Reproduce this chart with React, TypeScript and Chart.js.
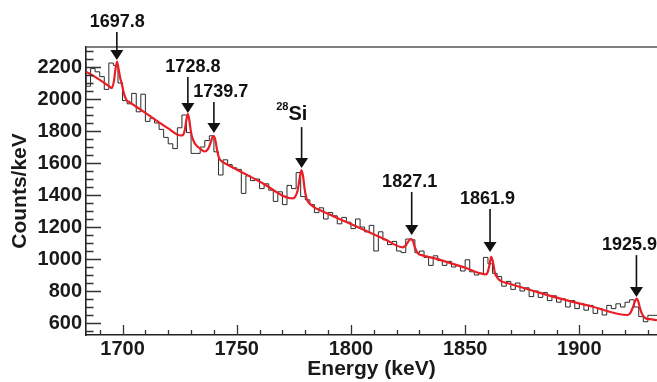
import React, { useEffect, useRef } from 'react';
import { Chart, registerables } from 'chart.js';

Chart.register(...registerables);

// Histogram: 2 keV bins starting at 1684 keV
const BIN_START = 1684;
const BIN_WIDTH = 2;
const histCounts = [
  2230, 2080, 2190, 2170, 2140, 2060, 2225, 2210, 2100, 1990,
  1970, 2035, 1920, 2030, 1860, 1880, 1850, 1810, 1760, 1720,
  1690, 1820, 1900, 1790, 1660, 1660, 1700, 1740, 1770, 1670,
  1525, 1620, 1590, 1570, 1560, 1410, 1520, 1490, 1500, 1440,
  1470, 1430, 1360, 1420, 1340, 1460, 1440, 1540, 1390, 1370,
  1340, 1290, 1320, 1250, 1290, 1270, 1220, 1260, 1230, 1190,
  1250, 1200, 1170, 1210, 1050, 1170, 1120, 1090, 1110, 1050,
  1040, 1125, 1120, 1040, 1050, 1010, 960, 1020, 990, 960,
  985, 950, 960, 925, 995, 920, 900, 910, 1010, 970,
  910, 890, 830, 860, 810, 850, 800, 820, 765, 800,
  760, 790, 740, 770, 730, 750, 700, 740, 690, 720,
  680, 710, 660, 690, 650, 710, 690, 720, 700, 730,
  745, 700, 640, 608, 648,
];

// Fit curve
const fitEnergies = [
  1684, 1688, 1692, 1694.5, 1695.3, 1696.2, 1697, 1697.6, 1698.3, 1699,
  1699.6, 1700.5, 1701.7, 1703, 1710, 1720, 1725.5, 1726.5, 1727.3, 1728,
  1728.6, 1729.2, 1730, 1730.8, 1732, 1734, 1736, 1737.5, 1738.5, 1739.4,
  1740, 1740.6, 1741.4, 1742.3, 1744, 1746.2, 1760, 1774.6, 1775.6, 1776.6,
  1777.5, 1778.3, 1779, 1779.8, 1780.5, 1781.5, 1782.7, 1784.5, 1786.3, 1800,
  1815, 1822.7, 1823.8, 1824.8, 1825.7, 1826.4, 1827.2, 1828, 1829.3, 1831,
  1836.7, 1850, 1859.2, 1859.9, 1860.7, 1861.4, 1862.2, 1863, 1864.3, 1866,
  1868.7, 1880, 1891.3, 1905, 1921.2, 1922.4, 1923.5, 1924.4, 1925.1, 1925.8,
  1926.6, 1927.7, 1929, 1931, 1934,
];
const fitCounts = [
  2170, 2138, 2100, 2075, 2068, 2110, 2195, 2232, 2185, 2130,
  2100, 2040, 1994, 1981, 1913, 1816, 1772, 1776, 1810, 1875,
  1905, 1870, 1790, 1748, 1715, 1690, 1672, 1690, 1725, 1762,
  1768, 1745, 1680, 1630, 1605, 1587, 1485, 1379, 1390, 1425,
  1500, 1556, 1520, 1430, 1381, 1352, 1337, 1318, 1306, 1218,
  1122, 1073, 1082, 1102, 1120, 1124, 1110, 1072, 1035, 1024,
  1004, 945, 904, 920, 965, 1014, 980, 915, 879, 860,
  848, 800, 754, 705, 650, 665, 700, 738, 752, 735,
  690, 650, 630, 624, 618,
];

// Axis ticks
const xTickValues = [1700, 1750, 1800, 1850, 1900];
const yTickValues = [600, 800, 1000, 1200, 1400, 1600, 1800, 2000, 2200];
const X_MIN = 1684;
const X_MAX = 1934;
const Y_MIN = 525;
const Y_MAX = 2325;

// Peak annotations (data coordinates)
const peakLabels = ['1697.8', '1728.8', '1739.7', 'Si', '1827.1', '1861.9', '1925.9'];
const peakSuperscripts = ['', '', '', '28', '', '', ''];
const peakArrowEnergies = [1697.5, 1728.6, 1740.0, 1778.4, 1826.6, 1860.9, 1925.0];
const peakTipCounts = [2244, 1912, 1787, 1569, 1150, 1044, 762];
const peakTextEnergies = [1697.7, 1730.8, 1743.0, 1774.1, 1825.7, 1859.8, 1922.0];
const peakTextCounts = [2481, 2200, 2044, 1912, 1481, 1375, 1087];

const FONT = "'Liberation Sans', Arial, Helvetica, sans-serif";

const overlayPlugin = {
  id: 'overlay',
  afterDraw(chart: any) {
    const { ctx, chartArea: a } = chart;
    const xs = chart.scales.x;
    const ys = chart.scales.y;
    ctx.save();
    // top frame line
    ctx.strokeStyle = '#555';
    ctx.lineWidth = 1.5;
    ctx.beginPath();
    ctx.moveTo(a.left, a.top);
    ctx.lineTo(a.right + 2, a.top);
    ctx.stroke();

    // inward ticks
    ctx.strokeStyle = '#333';
    ctx.lineWidth = 1.3;
    ctx.beginPath();
    for (let v = 550; v <= 2300; v += 50) {
      const py = Math.round(ys.getPixelForValue(v)) + 0.5;
      const len = v % 200 === 0 ? 15 : 7.5;
      ctx.moveTo(a.left, py);
      ctx.lineTo(a.left + len, py);
    }
    for (let e = 1690; e <= 1930; e += 10) {
      const px = Math.round(xs.getPixelForValue(e)) + 0.5;
      const len = e % 50 === 0 ? 10 : 5;
      ctx.moveTo(px, a.bottom);
      ctx.lineTo(px, a.bottom - len);
    }
    ctx.stroke();

    // peak annotations
    ctx.fillStyle = '#111';
    ctx.strokeStyle = '#111';
    for (let i = 0; i < peakLabels.length; i++) {
      const ax = xs.getPixelForValue(peakArrowEnergies[i]);
      const tipY = ys.getPixelForValue(peakTipCounts[i]);
      const tx = xs.getPixelForValue(peakTextEnergies[i]);
      const ty = ys.getPixelForValue(peakTextCounts[i]);
      ctx.textBaseline = 'middle';
      if (peakSuperscripts[i]) {
        ctx.font = `bold 11px ${FONT}`;
        const sw = ctx.measureText(peakSuperscripts[i]).width;
        ctx.font = `bold 20px ${FONT}`;
        const mw = ctx.measureText(peakLabels[i]).width;
        const left = tx - (sw + mw) / 2;
        ctx.textAlign = 'left';
        ctx.font = `bold 11px ${FONT}`;
        ctx.fillText(peakSuperscripts[i], left, ty - 6);
        ctx.font = `bold 20px ${FONT}`;
        ctx.fillText(peakLabels[i], left + sw, ty + 1);
      } else {
        ctx.textAlign = 'center';
        ctx.font = `bold 18px ${FONT}`;
        ctx.fillText(peakLabels[i], tx, ty);
      }
      const lineTop = ty + (peakSuperscripts[i] ? 14 : 10);
      const headH = 10;
      const headW = 6.5;
      ctx.lineWidth = 1.6;
      ctx.beginPath();
      ctx.moveTo(ax, lineTop);
      ctx.lineTo(ax, tipY - headH + 1);
      ctx.stroke();
      ctx.beginPath();
      ctx.moveTo(ax - headW, tipY - headH);
      ctx.lineTo(ax + headW, tipY - headH);
      ctx.lineTo(ax, tipY);
      ctx.closePath();
      ctx.fill();
    }
    ctx.restore();
  },
};

export default function App() {
  const canvasRef = useRef<HTMLCanvasElement | null>(null);

  useEffect(() => {
    const canvas = canvasRef.current;
    if (!canvas) return;
    const histData = histCounts.map((v, i) => ({ x: BIN_START + i * BIN_WIDTH, y: v }));
    histData.push({ x: BIN_START + histCounts.length * BIN_WIDTH, y: histCounts[histCounts.length - 1] });
    const fitData = fitEnergies.map((e, i) => ({ x: e, y: fitCounts[i] }));

    const chart = new Chart(canvas, {
      type: 'line',
      data: {
        datasets: [
          {
            label: 'fit',
            data: fitData,
            borderColor: 'rgb(234, 30, 38)',
            borderWidth: 2.2,
            pointRadius: 0,
            fill: false,
            cubicInterpolationMode: 'monotone',
            order: 0,
          },
          {
            label: 'data',
            data: histData,
            borderColor: '#2a2a2a',
            borderWidth: 1,
            pointRadius: 0,
            fill: false,
            stepped: 'after',
            order: 1,
          },
        ],
      },
      options: {
        responsive: false,
        animation: false,
        devicePixelRatio: 1,
        layout: { padding: { top: 47, right: 0, left: 0, bottom: 0 } },
        plugins: { legend: { display: false }, tooltip: { enabled: false } },
        scales: {
          x: {
            type: 'linear',
            min: X_MIN,
            max: X_MAX,
            grid: { display: false, drawTicks: false },
            border: { display: true, color: '#222', width: 1.6 },
            afterBuildTicks: (scale: any) => {
              scale.ticks = xTickValues.map((v) => ({ value: v }));
            },
            afterFit: (scale: any) => {
              scale.height = 47;
            },
            ticks: {
              autoSkip: false,
              maxRotation: 0,
              padding: 2,
              color: '#1a1a1a',
              font: { family: FONT, size: 20, weight: 'bold' },
              callback: (v: any) => String(v),
            },
            title: {
              display: true,
              text: 'Energy (keV)',
              color: '#1a1a1a',
              font: { family: FONT, size: 21, weight: 'bold' },
              padding: { top: 0, bottom: 0 },
            },
          },
          y: {
            type: 'linear',
            min: Y_MIN,
            max: Y_MAX,
            grid: { display: false, drawTicks: false },
            border: { display: true, color: '#222', width: 1.6 },
            afterBuildTicks: (scale: any) => {
              scale.ticks = yTickValues.map((v) => ({ value: v }));
            },
            afterFit: (scale: any) => {
              scale.width = 86;
            },
            ticks: {
              autoSkip: false,
              padding: 4,
              color: '#1a1a1a',
              font: { family: FONT, size: 20, weight: 'bold' },
              callback: (v: any) => String(v),
            },
            title: {
              display: true,
              text: 'Counts/keV',
              color: '#1a1a1a',
              font: { family: FONT, size: 21, weight: 'bold' },
              padding: { top: 8, bottom: 0 },
            },
          },
        },
      },
      plugins: [overlayPlugin],
    } as any);

    return () => chart.destroy();
  }, []);

  return (
    <div style={{ position: 'fixed', left: 0, top: 0, width: 657, height: 382, background: '#fff' }}>
      <canvas ref={canvasRef} width={657} height={382} style={{ display: 'block' }} />
    </div>
  );
}
